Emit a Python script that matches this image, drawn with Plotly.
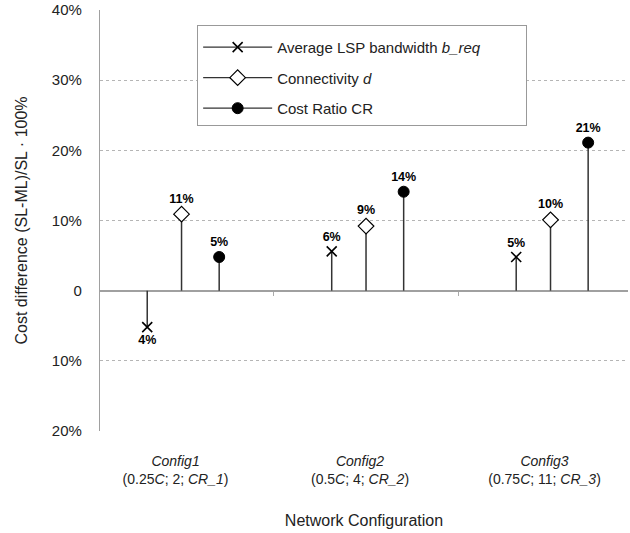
import plotly.graph_objects as go

# ---- data ----
categories = ["Config1", "Config2", "Config3"]
category_labels = [
    "<i>Config1</i><br>(0.25<i>C</i>; 2; <i>CR_1</i>)",
    "<i>Config2</i><br>(0.5<i>C</i>; 4; <i>CR_2</i>)",
    "<i>Config3</i><br>(0.75<i>C</i>; 11; <i>CR_3</i>)",
]
series_names = [
    "Average LSP bandwidth <i>b_req</i>",
    "Connectivity <i>d</i>",
    "Cost Ratio CR",
]
bandwidth_values = [-5.2, 5.6, 4.8]
connectivity_values = [10.9, 9.2, 10.1]
cost_ratio_values = [4.8, 14.1, 21.1]
bandwidth_labels = ["4%", "6%", "5%"]
connectivity_labels = ["11%", "9%", "10%"]
cost_ratio_labels = ["5%", "14%", "21%"]
y_tick_values = [-20, -10, 0, 10, 20, 30, 40]
y_tick_labels = ["20%", "10%", "0", "10%", "20%", "30%", "40%"]

# ---- styling ----
FONT = "Liberation Sans, Arial, Helvetica, sans-serif"
STEM = "#333333"
series_values = [bandwidth_values, connectivity_values, cost_ratio_values]
series_labels = [bandwidth_labels, connectivity_labels, cost_ratio_labels]
offsets = [-0.186, 0.0, 0.204]
markers = [
    dict(symbol="x-thin-open", size=10, color="black", line=dict(color="black", width=1.6)),
    dict(symbol="diamond", size=12, color="white", line=dict(color="black", width=1.2)),
    dict(symbol="circle", size=11, color="black", line=dict(color="black", width=1)),
]

fig = go.Figure()

for name, vals, labs, off, mk in zip(series_names, series_values, series_labels, offsets, markers):
    xs = [i + off for i in range(len(categories))]
    fig.add_trace(go.Scatter(
        x=xs, y=vals,
        mode="markers+text",
        marker=mk,
        text=labs,
        textposition=["top center" if v >= 0 else "bottom center" for v in vals],
        textfont=dict(family=FONT, size=12.5, color="black", weight="bold"),
        error_y=dict(type="data", symmetric=False,
                     array=[max(-v, 0) for v in vals],
                     arrayminus=[max(v, 0) for v in vals],
                     width=0, thickness=1.5, color=STEM),
        showlegend=False,
        cliponaxis=False,
    ))
    # legend entry
    fig.add_trace(go.Scatter(
        x=[None], y=[None], mode="lines+markers", name=name,
        marker=mk, line=dict(color=STEM, width=1.2),
        legendgroup=name,
    ))

fig.update_layout(
    width=630, height=533,
    margin=dict(l=100, r=2, t=10, b=102),
    paper_bgcolor="white", plot_bgcolor="white",
    font=dict(family=FONT, size=15, color="#222"),
    legend=dict(
        x=0.184, y=0.965, xanchor="left", yanchor="top",
        bgcolor="white", bordercolor="#999", borderwidth=1,
        font=dict(family=FONT, size=15, color="#222"),
        itemwidth=69, tracegroupgap=8, traceorder="grouped",
        title=dict(text="&nbsp;" * 291, font=dict(size=4)),
    ),
    xaxis=dict(
        range=[-0.442, 2.42],
        tickvals=list(range(len(categories))),
        ticktext=category_labels,
        ticks="", showgrid=False, zeroline=False, showline=False,
        tickfont=dict(family=FONT, size=14, color="#222"),
        ticklabelshift=-6, ticklabelstandoff=20,
        title=dict(text="Network Configuration", font=dict(family=FONT, size=16, color="#222"), standoff=28),
    ),
    xaxis2=dict(
        range=[-0.442, 2.42], overlaying="x", anchor="free", position=1/3,
        tickvals=[0.5, 1.5], ticks="outside", ticklen=4, tickcolor="#aaa",
        showticklabels=False, showgrid=False, zeroline=False, showline=False,
    ),
    yaxis=dict(
        range=[-20, 40],
        tickvals=y_tick_values, ticktext=y_tick_labels,
        showgrid=True, gridcolor="#b5b5b5", griddash="dot", gridwidth=1,
        zeroline=True, zerolinecolor="#a0a0a0", zerolinewidth=1.5,
        showline=True, linecolor="#a0a0a0", linewidth=1.2,
        ticks="", ticklabelstandoff=14,
        tickfont=dict(family=FONT, size=15, color="#222"),
        title=dict(text="Cost difference (SL-ML)/SL · 100%", font=dict(family=FONT, size=16, color="#222"), standoff=20),
    ),
)
# dummy trace to activate xaxis2
fig.add_trace(go.Scatter(x=[None], y=[None], xaxis="x2", showlegend=False))

fig.write_html("out.html", config={"displayModeBar": False},
               post_script="document.body.style.margin='0';")
